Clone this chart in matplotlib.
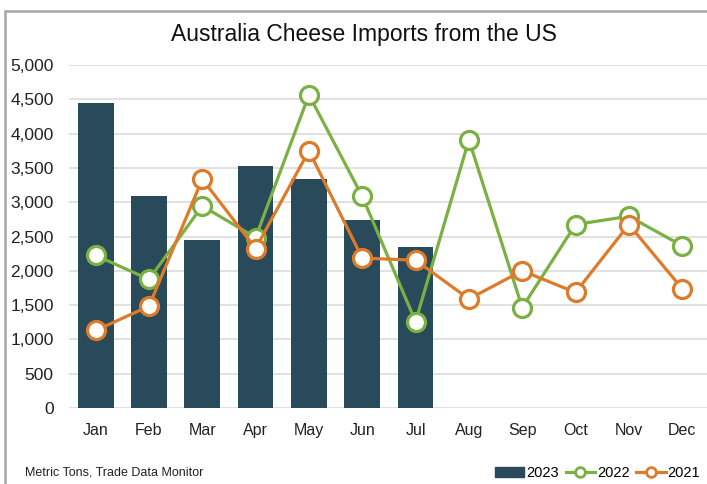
import matplotlib
matplotlib.use("Agg")
import matplotlib.pyplot as plt
from matplotlib.patches import Rectangle
from matplotlib.lines import Line2D
from matplotlib.ticker import FuncFormatter

plt.rcParams['font.family'] = ['Liberation Sans', 'DejaVu Sans']

# 月度数据（公吨）
months = ['Jan', 'Feb', 'Mar', 'Apr', 'May', 'Jun', 'Jul', 'Aug', 'Sep', 'Oct', 'Nov', 'Dec']
imports_2023 = [4445, 3085, 2455, 3525, 3340, 2745, 2350]
imports_2022 = [2225, 1875, 2945, 2485, 4565, 3085, 1260, 3910, 1465, 2675, 2795, 2365]
imports_2021 = [1130, 1485, 3335, 2325, 3750, 2185, 2155, 1590, 2000, 1685, 2675, 1740]

bar_color = '#284A5A'
green = '#7BB043'
orange = '#DD7B2A'

fig = plt.figure(figsize=(7.07, 4.84), dpi=100)
ax = fig.add_axes([0.0976, 0.157, 0.905, 0.7087])

x = range(len(months))
ax.bar(range(len(imports_2023)), imports_2023, width=0.67, color=bar_color, zorder=2)
ax.plot(x, imports_2022, color=green, lw=2.3, marker='o', ms=13,
        mfc='white', mec=green, mew=2.3, zorder=3)
ax.plot(x, imports_2021, color=orange, lw=2.3, marker='o', ms=13,
        mfc='white', mec=orange, mew=2.3, zorder=4)

ax.set_xlim(-0.5, 11.5)
ax.set_ylim(0, 5000)
ax.set_yticks(range(0, 5001, 500))
ax.yaxis.set_major_formatter(FuncFormatter(lambda v, p: f'{int(v):,}'))
ax.set_xticks(list(x))
ax.set_xticklabels(months)
ax.grid(axis='y', color='#DCDCDC', lw=1.2, zorder=0)
ax.set_axisbelow(True)
for s in ['top', 'right', 'left', 'bottom']:
    ax.spines[s].set_visible(False)
ax.tick_params(length=0, labelsize=11.5, colors='#222222')
ax.tick_params(axis='y', pad=11, labelsize=12.5)
ax.tick_params(axis='x', pad=11)

# 外框
fig.patches.append(Rectangle((0.0064, -0.1), 1.2, 1.0764, transform=fig.transFigure,
                             fill=False, edgecolor='#A6A6A6', lw=1.8, zorder=0))

fig.text(0.515, 0.928, 'Australia Cheese Imports from the US', ha='center', va='center',
         fontsize=16.5, color='#111111')
fig.text(0.036, 0.023, 'Metric Tons, Trade Data Monitor', ha='left', va='center',
         fontsize=9, color='#222222')

handles = [
    Rectangle((0, 0), 1, 1, color=bar_color),
    Line2D([], [], color=green, lw=2.3, marker='o', ms=7, mfc='white', mec=green, mew=2),
    Line2D([], [], color=orange, lw=2.3, marker='o', ms=7, mfc='white', mec=orange, mew=2),
]
fig.legend(handles, ['2023', '2022', '2021'], loc='center right', bbox_to_anchor=(1.005, 0.023),
           ncol=3, frameon=False, fontsize=10.5, handlelength=2.0, handletextpad=0.15,
           columnspacing=0.45, borderpad=0.2)

fig.savefig('out.png', dpi=100)
